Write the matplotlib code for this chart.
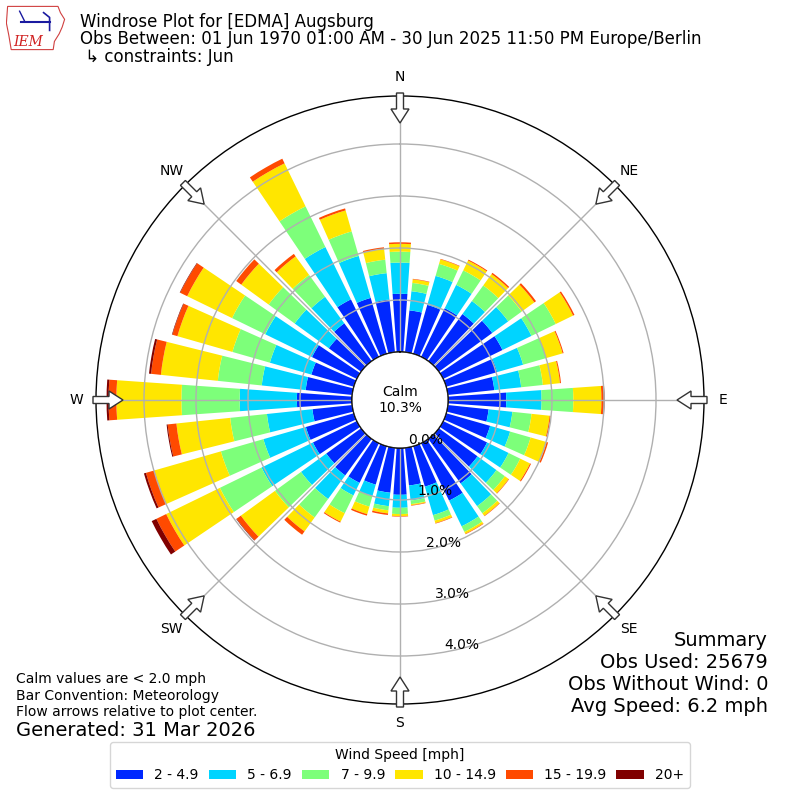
import numpy as np
import matplotlib
matplotlib.use("Agg")
import matplotlib.pyplot as plt
from matplotlib.patches import FancyArrow, Circle, Patch, Polygon

# ---------------- data ----------------
directions = [0, 10, 20, 30, 40, 50, 60, 70, 80, 90, 100, 110, 120, 130, 140, 150, 160, 170,
              180, 190, 200, 210, 220, 230, 240, 250, 260, 270, 280, 290, 300, 310, 320, 330, 340, 350]

speed_labels = ["2 - 4.9", "5 - 6.9", "7 - 9.9", "10 - 14.9", "15 - 19.9", "20+"]

# frequency (%) per direction for each speed bin
pct_2_5 = [1.12, 0.81, 0.98, 1.04, 1.12, 1.27, 1.27, 1.02, 0.90, 1.12, 0.79, 0.88, 0.94, 0.92, 1.06, 1.23, 0.81, 0.73,
           0.90, 0.87, 0.77, 0.85, 0.87, 0.83, 0.94, 0.96, 0.77, 1.06, 0.90, 0.85, 0.96, 0.77, 0.90, 1.23, 1.12, 1.02]
pct_5_7 = [0.60, 0.37, 0.58, 0.50, 0.31, 0.38, 0.62, 0.52, 0.52, 0.68, 0.46, 0.40, 0.46, 0.45, 0.54, 0.55, 0.57, 0.29,
           0.25, 0.26, 0.23, 0.27, 0.56, 0.60, 1.10, 0.85, 0.88, 1.10, 0.85, 0.83, 1.00, 0.81, 0.63, 1.12, 0.84, 0.51]
pct_7_10 = [0.21, 0.16, 0.24, 0.31, 0.37, 0.32, 0.52, 0.46, 0.42, 0.61, 0.37, 0.41, 0.25, 0.20, 0.17, 0.12, 0.11, 0.07,
            0.12, 0.08, 0.21, 0.38, 0.44, 0.62, 0.89, 0.85, 0.71, 1.12, 0.85, 0.75, 0.71, 0.62, 0.52, 0.87, 0.49, 0.26]
pct_10_15 = [0.15, 0.07, 0.09, 0.21, 0.27, 0.30, 0.37, 0.33, 0.33, 0.54, 0.35, 0.32, 0.21, 0.09, 0.06, 0.04, 0.05, 0.02,
             0.04, 0.06, 0.15, 0.18, 0.33, 0.81, 1.15, 1.33, 1.04, 1.25, 1.10, 1.10, 0.96, 0.65, 0.44, 0.92, 0.42, 0.21]
pct_15_20 = [0.03, 0.01, 0.01, 0.02, 0.03, 0.04, 0.03, 0.02, 0.02, 0.05, 0.02, 0.03, 0.02, 0.01, 0.01, 0.01, 0.01, 0.01,
             0.01, 0.03, 0.03, 0.02, 0.08, 0.10, 0.21, 0.17, 0.17, 0.15, 0.19, 0.10, 0.15, 0.12, 0.06, 0.10, 0.04, 0.03]
pct_20p = [0.00, 0.00, 0.00, 0.00, 0.00, 0.00, 0.00, 0.00, 0.00, 0.01, 0.00, 0.00, 0.00, 0.00, 0.00, 0.00, 0.00, 0.00,
           0.00, 0.00, 0.00, 0.00, 0.00, 0.01, 0.10, 0.04, 0.02, 0.04, 0.04, 0.01, 0.01, 0.00, 0.00, 0.00, 0.00, 0.00]

calm_pct = 10.3
rticks = [0, 1, 2, 3, 4]
rtick_labels = ["0.0%", "1.0%", "2.0%", "3.0%", "4.0%"]
compass_deg = [0, 45, 90, 135, 180, 225, 270, 315]
compass_labels = ["N", "NE", "E", "SE", "S", "SW", "W", "NW"]

title_lines = ["Windrose Plot for [EDMA] Augsburg",
               "Obs Between: 01 Jun 1970 01:00 AM - 30 Jun 2025 11:50 PM Europe/Berlin",
               " \u21b3 constraints: Jun"]
notes = ["Calm values are < 2.0 mph", "Bar Convention: Meteorology",
         "Flow arrows relative to plot center."]
generated = "Generated: 31 Mar 2026"
summary_lines = ["Summary", "Obs Used: 25679", "Obs Without Wind: 0", "Avg Speed: 6.2 mph"]

colors = ["#0028ff", "#00d4ff", "#7dff7a", "#ffe600", "#ff4a00", "#800000"]

# ---------------- figure ----------------
fig = plt.figure(figsize=(8, 8), dpi=100)
ax = fig.add_axes([0.12, 0.12, 0.76, 0.76], projection="polar")
ax.set_theta_zero_location("N")
ax.set_theta_direction(-1)

theta = np.radians(directions)
width = np.radians(8.0)
bottom = np.zeros(len(directions))
series = [pct_2_5, pct_5_7, pct_7_10, pct_10_15, pct_15_20, pct_20p]
handles = []
for vals, col, lab in zip(series, colors, speed_labels):
    v = np.array(vals)
    ax.bar(theta, v, width=width, bottom=bottom, color=col, linewidth=0, zorder=1)
    bottom = bottom + v
    handles.append(Patch(facecolor=col, edgecolor="none", label=lab))

ax.set_rorigin(-0.923)
ax.set_ylim(0, 4.923)
ax.set_yticks(rticks)
ax.set_yticklabels(rtick_labels)
ax.set_rlabel_position(170)
ax.set_xticks(np.radians(compass_deg))
ax.set_xticklabels(compass_labels)
ax.grid(True, color="#b0b0b0", linewidth=1.0)
ax.tick_params(axis="x", pad=3.5, labelsize=10)
ax.tick_params(axis="y", labelsize=10)
ax.spines["polar"].set_color("black")
ax.spines["polar"].set_linewidth(1.0)

# calm circle
R = 608.0
ax.add_patch(Circle((0.5, 0.5), 48 / R, transform=ax.transAxes, facecolor="white",
                    edgecolor="black", linewidth=1.0, zorder=5))
ax.text(0.5, 0.5, "Calm\n%.1f%%" % calm_pct, transform=ax.transAxes, ha="center",
        va="center", fontsize=10, zorder=6)

# flow arrows
r_tail = 0.5 + 3 / R
r_tip = 0.5 - 27 / R
for b in compass_deg:
    s, c = np.sin(np.radians(b)), np.cos(np.radians(b))
    arr = FancyArrow(0.5 + r_tail * s, 0.5 + r_tail * c, (r_tip - r_tail) * s, (r_tip - r_tail) * c,
                     width=7 / R, head_width=18 / R, head_length=14 / R, length_includes_head=True,
                     transform=ax.transAxes, facecolor="white", edgecolor="#333333",
                     linewidth=1.0, clip_on=False, zorder=7)
    ax.add_patch(arr)

# titles
for i, (line, yb) in enumerate(zip(title_lines, [26.7, 44.3, 61.7])):
    fig.text(80 / 800, 1 - yb / 800, line, fontsize=12, va="baseline", ha="left")

# notes
for line, yc in zip(notes, [679, 696, 712]):
    fig.text(16 / 800, 1 - yc / 800, line, fontsize=10, va="center", ha="left")
fig.text(16 / 800, 1 - 730 / 800, generated, fontsize=14, va="center", ha="left")

for line, yc in zip(summary_lines, [640, 662, 684, 706]):
    fig.text(768 / 800, 1 - yc / 800, line, fontsize=14, va="center", ha="right")

# legend
fig.legend(handles=handles, labels=speed_labels, loc="center", bbox_to_anchor=(0.5, 1 - 765 / 800),
           ncol=6, title="Wind Speed [mph]", fontsize=10, title_fontsize=10, columnspacing=0.7)

# logo (approximation)
lax = fig.add_axes([0.008, 0.935, 0.075, 0.06])
lax.set_xlim(0, 1)
lax.set_ylim(0, 1)
lax.axis("off")
iowa = [(0.02, 0.95), (0.86, 0.95), (0.9, 0.82), (0.97, 0.68), (0.93, 0.52), (0.88, 0.38),
        (0.8, 0.22), (0.78, 0.05), (0.08, 0.05), (0.04, 0.35), (0.0, 0.6)]
lax.add_patch(Polygon(iowa, closed=True, facecolor="white", edgecolor="#d04040", linewidth=0.8))
lax.plot([0.25, 0.72], [0.62, 0.62], color="#1a1aa0", lw=1.5)
lax.plot([0.22, 0.3], [0.85, 0.65], color="#1a1aa0", lw=1.0)
lax.plot([0.62, 0.72, 0.72], [0.82, 0.72, 0.45], color="#1a1aa0", lw=1.2)
lax.text(0.12, 0.2, "IEM", color="#d02020", fontsize=10, fontstyle="italic",
         family="DejaVu Serif", va="center", ha="left")

fig.savefig("out.png", dpi=100)
